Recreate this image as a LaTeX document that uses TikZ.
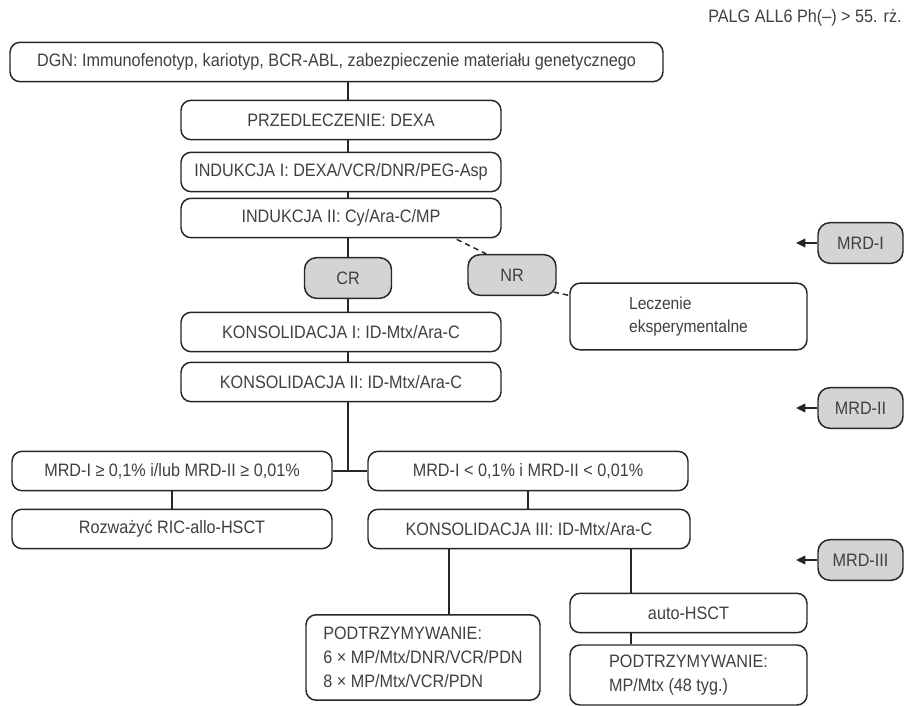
\documentclass[tikz,border=0pt]{standalone}
\usepackage{fontspec}
\setmainfont{Liberation Sans}[FakeStretch=0.9]
\usetikzlibrary{positioning, arrows.meta, calc}

\begin{document}
\begin{tikzpicture}[x=0.75pt,y=-0.75pt,
    font=\fontsize{13.5pt}{18pt}\selectfont,
    box/.style={draw=black!85, line width=1.1pt, rounded corners=7.5pt, fill=white,
        text=black!75, inner sep=2pt, minimum height=29.5pt, minimum width=#1*0.75pt},
    greybox/.style={box=#1, fill=black!17, minimum height=30.5pt, rounded corners=9pt},
    conn/.style={draw=black!85, line width=1.1pt},
    mrdarrow/.style={conn, -{Triangle[length=7pt,width=6.5pt]}}]
    \useasboundingbox (0,0) rectangle (904,706);

    % title
    \node[anchor=east, text=black!75, inner sep=0pt] (title) at (902,18) {PALG ALL6 Ph(–) > 55. rż.};

    % main column
    \node[box=653] (dgn) at (336.5,62) {DGN: Immunofenotyp, kariotyp, BCR-ABL, zabezpieczenie materiału genetycznego};
    \node[box=320] (pre) at (341,120) {PRZEDLECZENIE: DEXA};
    \node[box=320] (ind1) at (341,172) {INDUKCJA I: DEXA/VCR/DNR/PEG-Asp};
    \node[box=320] (ind2) at (341,218) {INDUKCJA II: Cy/Ara-C/MP};
    \node[greybox=87] (cr) at (348,278) {CR};
    \node[greybox=88] (nr) at (512,275) {NR};
    \node[box=237, minimum height=50pt, align=left, font=\fontsize{13pt}{17pt}\selectfont] (lecz) at (688.5,316.5) {Leczenie\\eksperymentalne};
    \node[box=320] (kons1) at (341,332) {KONSOLIDACJA I: ID-Mtx/Ara-C};
    \node[box=320] (kons2) at (341,382) {KONSOLIDACJA II: ID-Mtx/Ara-C};

    % MRD split
    \node[box=320] (mrdhi) at (172,471) {MRD-I ≥ 0,1\% i/lub MRD-II ≥ 0,01\%};
    \node[box=320] (mrdlo) at (528,471) {MRD-I < 0,1\% i MRD-II < 0,01\%};
    \node[box=320] (allo) at (172,529) {Rozważyć RIC-allo-HSCT};
    \node[box=322] (kons3) at (529,529) {KONSOLIDACJA III: ID-Mtx/Ara-C};

    % maintenance
    \node[box=234, minimum height=64pt, align=left] (podtl) at (423,657.5) {PODTRZYMYWANIE:\\6 × MP/Mtx/DNR/VCR/PDN\\8 × MP/Mtx/VCR/PDN};
    \node[box=237] (auto) at (688.5,613) {auto-HSCT};
    \node[box=237, minimum height=45pt, align=left] (podtr) at (688.5,675) {PODTRZYMYWANIE:\\MP/Mtx (48 tyg.)};

    % MRD markers
    \node[greybox=85] (mrd1) at (860.5,243) {MRD-I};
    \node[greybox=85] (mrd2) at (860.5,408) {MRD-II};
    \node[greybox=85] (mrd3) at (860.5,560) {MRD-III};
    \coordinate (m1tip) at (796,243);
    \coordinate (m2tip) at (796,408);
    \coordinate (m3tip) at (796,560);

    % connectors
    \coordinate (trunk) at (348,0);
    \coordinate (lleg) at (449,0);
    \coordinate (rleg) at (631,0);
    \draw[conn] (dgn.south -| trunk) -- (pre.north -| trunk);
    \draw[conn] (pre.south -| trunk) -- (ind1.north -| trunk);
    \draw[conn] (ind1.south -| trunk) -- (ind2.north -| trunk);
    \draw[conn] (ind2.south -| trunk) -- (cr.north);
    \draw[conn] (cr.south) -- (kons1.north -| trunk);
    \draw[conn] (kons1.south -| trunk) -- (kons2.north -| trunk);
    \draw[conn] (kons2.south -| trunk) -- (trunk |- mrdhi.east);
    \draw[conn] (mrdhi.east) -- (mrdlo.west);
    \draw[conn] (mrdhi.south) -- (allo.north);
    \draw[conn] (mrdlo.south) -- (kons3.north -| mrdlo.south);
    \draw[conn] (kons3.south -| lleg) -- (podtl.north -| lleg);
    \draw[conn] (kons3.south -| rleg) -- (auto.north -| rleg);
    \draw[conn] (auto.south -| rleg) -- (podtr.north -| rleg);
    \draw[conn, dash pattern=on 4pt off 3pt] ($(ind2.south east)+(-45,1)$) -- ($(nr.north west)+(19,0)$);
    \draw[conn, dash pattern=on 4pt off 3pt] ($(nr.south east)+(-3,-4)$) -- ($(lecz.north west)+(0,13)$);
    \draw[mrdarrow] (mrd1.west) -- (m1tip);
    \draw[mrdarrow] (mrd2.west) -- (m2tip);
    \draw[mrdarrow] (mrd3.west) -- (m3tip);
\end{tikzpicture}
\end{document}
